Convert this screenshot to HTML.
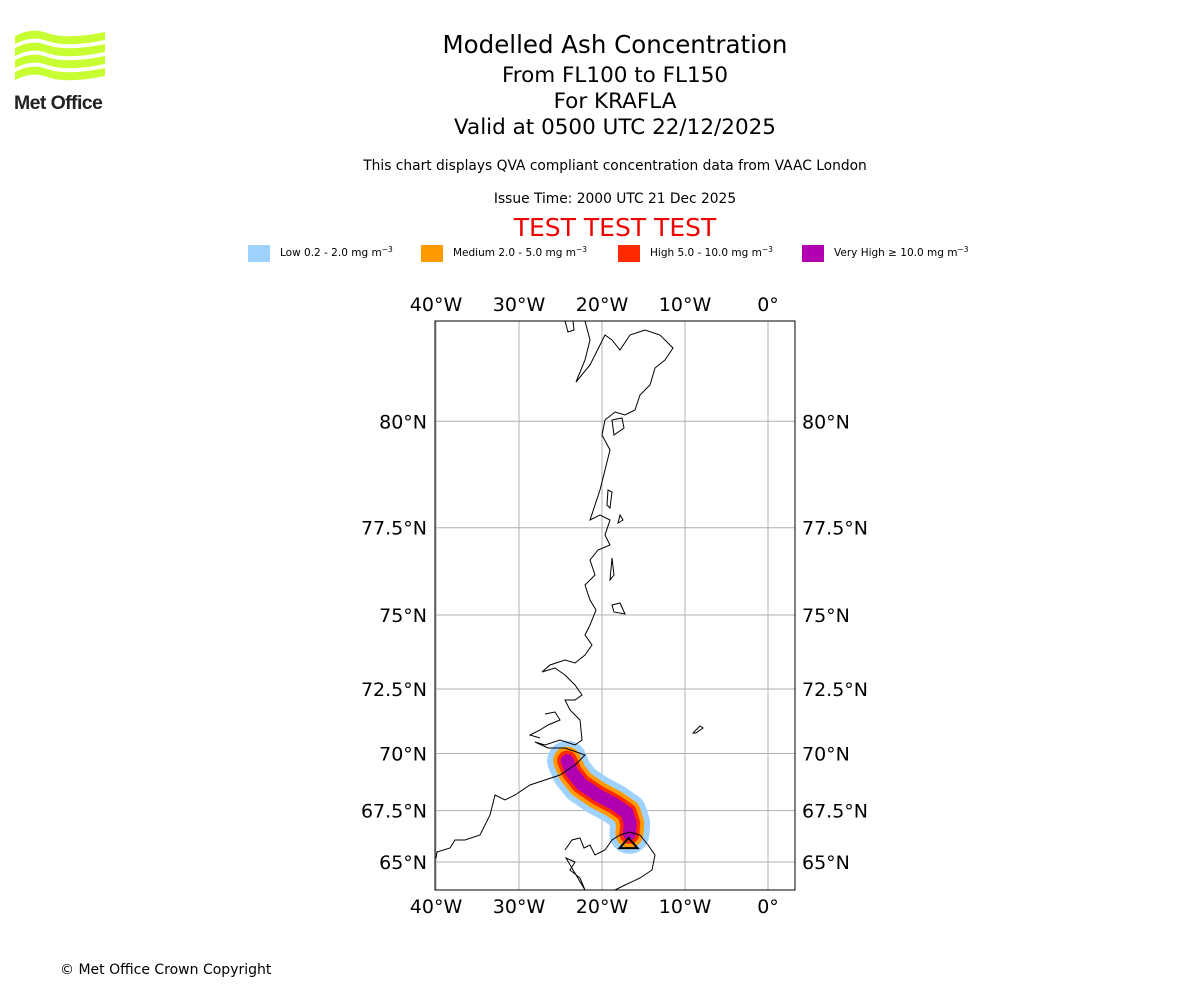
<!DOCTYPE html>
<html><head><meta charset="utf-8"><style>
body{margin:0;width:1200px;height:1000px;background:#fff;font-family:"DejaVu Sans","Liberation Sans",sans-serif;position:relative;overflow:hidden}
.t{position:absolute;left:0;width:1230px;text-align:center;white-space:nowrap}
</style></head><body>
<svg style="position:absolute;left:12px;top:28px" width="100" height="86" viewBox="0 0 100 86">
<g fill="#c8ff33">
<path d="M3 8 Q20 -1 35 5 Q55 12 93 4 V12 Q55 20 35 13 Q20 7 3 16Z"/>
<path d="M3 20 Q20 11 35 17 Q55 24 93 16 V24 Q55 32 35 25 Q20 19 3 28Z"/>
<path d="M3 32 Q20 23 35 29 Q55 36 93 28 V36 Q55 44 35 37 Q20 31 3 40Z"/>
<path d="M3 44 Q20 35 35 41 Q55 48 93 40 V48 Q55 56 35 49 Q20 43 3 52Z"/>
</g>
<text x="2" y="81" font-family="Liberation Sans" font-weight="bold" font-size="19.5" fill="#222" letter-spacing="-0.6">Met Office</text>
</svg>
<div class="t" style="top:30px;font-size:24.5px">Modelled Ash Concentration</div>
<div class="t" style="top:63px;font-size:21.5px">From FL100 to FL150</div>
<div class="t" style="top:89px;font-size:21.5px">For KRAFLA</div>
<div class="t" style="top:115px;font-size:21.5px">Valid at 0500 UTC 22/12/2025</div>
<div class="t" style="top:158px;font-size:13.8px">This chart displays QVA compliant concentration data from VAAC London</div>
<div class="t" style="top:191px;font-size:13.8px">Issue Time: 2000 UTC 21 Dec 2025</div>
<div class="t" style="top:213px;font-size:25px;color:#e00">TEST TEST TEST</div>
<svg id="legend" style="position:absolute;left:0;top:240px" width="1200" height="30"></svg>
<svg id="map" style="position:absolute;left:0;top:0" width="1200" height="960"></svg>
<div style="position:absolute;left:60px;top:962px;font-size:14px">© Met Office Crown Copyright</div>
<script>
const legendNames=["Low 0.2 - 2.0 mg m","Medium 2.0 - 5.0 mg m","High 5.0 - 10.0 mg m","Very High  ≥  10.0 mg m"];
const legendColors=["#a0d2ff","#ff9a00","#ff2a00","#b000b0"];
const lonTicks=[-40,-30,-20,-10,0];
const lonLabels=["40°W","30°W","20°W","10°W","0°"];
const latTicks=[65,67.5,70,72.5,75,77.5,80];
const latLabels=["65°N","67.5°N","70°N","72.5°N","75°N","77.5°N","80°N"];
// plume centreline (lon, lat) and band widths
const plumeLon=[-24.2,-23.6,-22.5,-20.5,-18.5,-17.0,-16.6,-16.7];
const plumeLat=[69.7,69.2,68.7,68.2,67.8,67.4,66.9,66.4];
const bandWidths=[40,28,20,13];
const NS="http://www.w3.org/2000/svg";
function mk(p,t,a){const e=document.createElementNS(NS,t);for(const k in a)e.setAttribute(k,a[k]);p.appendChild(e);return e;}
const merc=l=>Math.log(Math.tan(Math.PI/4+l*Math.PI/360));
const X=lon=>768+lon*8.3;
const Y=lat=>862-(merc(lat)-merc(65))*474;
const L=document.getElementById('legend');
const lx=[248,421,618,802];
legendNames.forEach((s,i)=>{
 const r=mk(L,'rect',{x:lx[i],y:5,width:22,height:17,fill:legendColors[i]});
 
 
 const t=mk(L,'text',{x:lx[i]+32,y:16,'font-size':10.5,'font-family':'DejaVu Sans','xml:space':'preserve'});
 t.textContent=s;
 const sp=mk(t,'tspan',{dy:-4,'font-size':7.5});sp.textContent='−3';
 
 
});
const M=document.getElementById('map');
const x0=435,x1=795,y0=321,y1=890;
const g=mk(M,'g',{});


lonTicks.forEach((lon,i)=>{
 mk(g,'line',{x1:X(lon),x2:X(lon),y1:y0,y2:y1,stroke:'#b0b0b0','stroke-width':1});
 [304,906].forEach(yy=>{const t=mk(M,'text',{x:X(lon),y:yy+7,'text-anchor':'middle','font-size':19});t.textContent=lonLabels[i];
 
 });
});
latTicks.forEach((lat,i)=>{
 mk(g,'line',{x1:x0,x2:x1,y1:Y(lat),y2:Y(lat),stroke:'#b0b0b0','stroke-width':1});
 const a=mk(M,'text',{x:427,y:Y(lat)+7,'text-anchor':'end','font-size':19});a.textContent=latLabels[i];
 
 
 const b=mk(M,'text',{x:802,y:Y(lat)+7,'font-size':19});b.textContent=latLabels[i];
 
 
});
// plume
const pts=plumeLon.map((lo,i)=>X(lo)+','+Y(plumeLat[i])).join(' ');
bandWidths.forEach((w,i)=>{
 const p=mk(M,'polyline',{points:pts,fill:'none',stroke:legendColors[i],'stroke-width':w,'stroke-linejoin':'round','stroke-linecap':'round'});
 
 
});
// coastlines
const coast=mk(M,'g',{fill:'none',stroke:'#000','stroke-width':1});


mk(coast,'path',{d:"M565 321 L568 332 L574 330 L573 321 M585 321 L590 340 L585 360 L576 382 L590 365 L600 345 L605 335 L612 340 L620 350 L630 335 L645 330 L660 335 L673 348 L665 360 L655 368 L650 385 L640 395 L635 410 L625 415 L615 412 L605 420 L602 435 L610 450 L605 470 L600 490 L590 520 L600 515 L610 520 L605 535 L610 545 L598 550 L590 560 L595 575 L585 585 L590 600 L596 610 L590 625 L585 635 L592 645 L585 655 L575 663 L565 660 L550 665 L542 672 L555 668 L565 675 L575 685 L582 695 L575 700 L565 700 L570 710 L580 720 L582 740 L575 745 L560 740 L545 745 L535 742 L548 748 L565 748 L585 755 L575 765 L560 775 L545 780 L530 785 L515 795 L505 800 L495 795 L490 815 L480 835 L465 840 L455 840 L450 848 L437 852 L436 858"});
mk(coast,'path',{d:"M612 420 L622 418 L624 428 L614 435 Z M608 490 L612 492 L610 508 L607 505 Z M620 515 L623 520 L618 523 Z M612 558 L614 575 L610 580 Z M612 605 L620 603 L625 614 L614 612 Z"});
mk(coast,'path',{d:"M565 850 L572 840 L580 838 L584 848 L590 845 L595 855 L605 850 L612 840 L620 835 L630 832 L640 835 L648 845 L655 855 L652 870 L640 878 L625 885 L615 890 M585 890 L580 878 L570 870 L575 862 L566 858 Z"});
mk(coast,'path',{d:"M693 733 L700 726 L703 728 L696 733 Z"});
mk(coast,'path',{d:"M545 714 L555 712 L560 720 L548 725 L540 730 L530 735 L540 738"});
const vm=mk(M,'path',{d:`M${X(-16.8)-9} ${Y(65.7)} L${X(-16.8)} ${Y(66.2)} L${X(-16.8)+9} ${Y(65.7)} Z`,fill:'none',stroke:'#000','stroke-width':2});


const fr=mk(M,'rect',{x:x0,y:y0,width:x1-x0,height:y1-y0,fill:'none',stroke:'#000','stroke-width':1});


</script>
</body></html>
